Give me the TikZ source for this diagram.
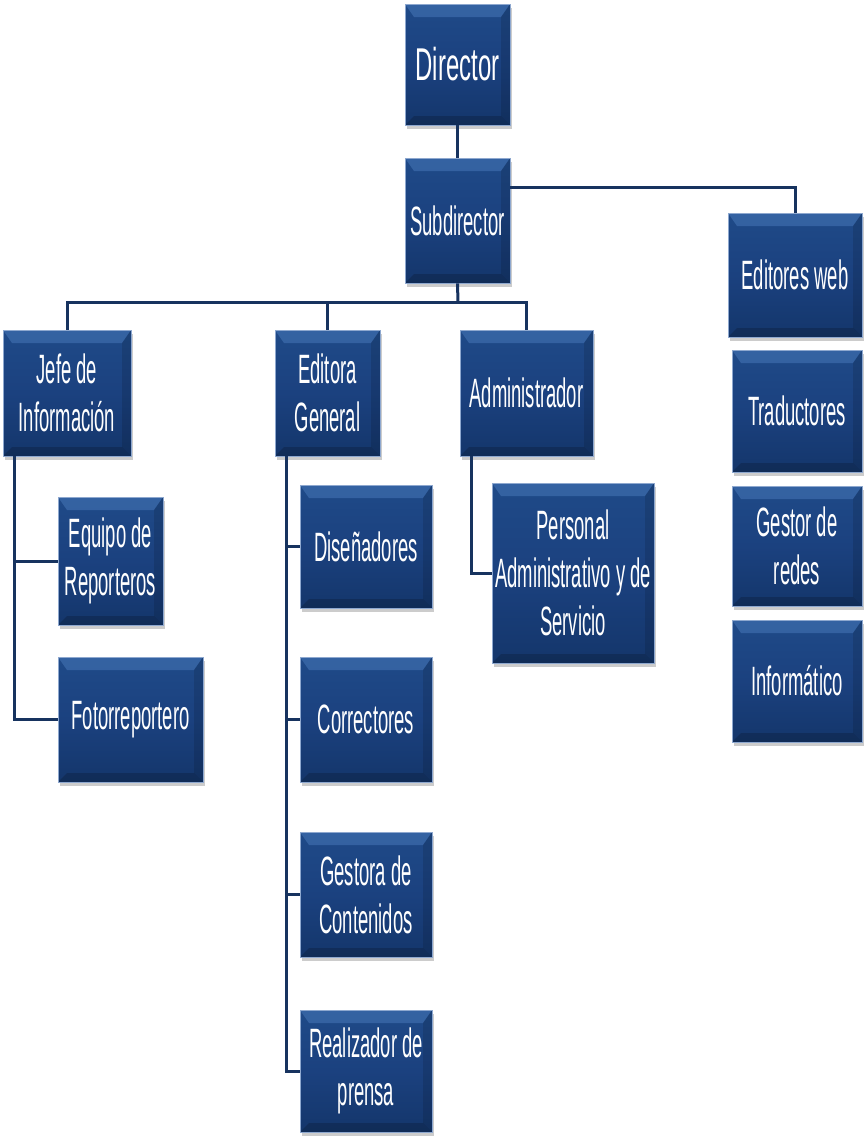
\documentclass[tikz,border=0pt]{standalone}
\usepackage{fontspec}
\setmainfont{Liberation Sans}
\newfontfamily\unitfam{Liberation Sans}[FakeStretch=0.45]
\newfontfamily\topfam{Liberation Sans}[FakeStretch=0.52]
\usetikzlibrary{shadows}
\definecolor{boxtop}{HTML}{1F4A88}
\definecolor{boxmid}{HTML}{1B417F}
\definecolor{boxbot}{HTML}{14366B}
\definecolor{boxhi}{HTML}{4A7BBC}
\definecolor{boxedge}{HTML}{8EA8CF}
\definecolor{linkcol}{HTML}{17335F}
\newcommand{\unitfont}{\unitfam\fontsize{41}{48}\selectfont}
\newcommand{\topfont}{\topfam\fontsize{46}{52}\selectfont}
\tikzset{
  unit/.style={rectangle, inner sep=0pt, text=white, align=center, font=\unitfont,
    top color=boxtop, bottom color=boxbot, middle color=boxmid,
    draw=boxedge, line width=0.8pt,
    drop shadow={shadow xshift=2pt, shadow yshift=-4pt, fill=black!40, opacity=0.5},
    path picture={
      \fill[boxhi, opacity=0.5] (path picture bounding box.north west) -- (path picture bounding box.north east)
        -- ([xshift=-9pt,yshift=-13pt]path picture bounding box.north east)
        -- ([xshift=9pt,yshift=-13pt]path picture bounding box.north west) -- cycle;
      \fill[black, opacity=0.18] (path picture bounding box.south west) -- (path picture bounding box.south east)
        -- ([xshift=-9pt,yshift=9pt]path picture bounding box.south east)
        -- ([xshift=9pt,yshift=9pt]path picture bounding box.south west) -- cycle;
      \fill[black, opacity=0.12] (path picture bounding box.north east) -- (path picture bounding box.south east)
        -- ([xshift=-9pt,yshift=9pt]path picture bounding box.south east)
        -- ([xshift=-9pt,yshift=-13pt]path picture bounding box.north east) -- cycle;
    }},
  link/.style={draw=linkcol, line width=3pt}
}
% box from corner (x1,y1) to corner (x2,y2), y measured downwards
\newcommand{\unitbox}[6]{%
  \node[unit, minimum width={(#4-#2)*1pt}, minimum height={(#5-#3)*1pt}]
    (#1) at ({(#2+#4)/2},{(#3+#5)/2}) {#6};}
\begin{document}
\begin{tikzpicture}[x=1pt, y=-1pt]
\useasboundingbox (0,0) rectangle (864,1136);

% top of the hierarchy
\node[unit, font=\topfont, minimum width=105pt, minimum height=121pt] (dir) at (457.5,64.5) {Director};
\unitbox{sub}{405}{158}{510}{283}{Subdirector}

% web team column
\unitbox{web}{728}{213}{862}{337}{Editores web}
\unitbox{trad}{732}{350}{862}{472}{Traductores}
\unitbox{redes}{732}{486}{862}{606}{Gestor de\\redes}
\unitbox{info}{732}{620}{862}{742}{Informático}

% second level
\unitbox{jefe}{3}{330}{131}{456}{Jefe de\\Información}
\unitbox{edit}{275}{330}{380}{456}{Editora\\General}
\unitbox{adm}{460}{330}{593}{456}{Administrador}

% under Jefe de Información
\unitbox{equipo}{58}{497}{163}{625}{Equipo de\\Reporteros}
\unitbox{foto}{58}{657}{203}{782}{Fotorreportero}

% under Editora General
\unitbox{dis}{300}{485}{432}{608}{Diseñadores}
\unitbox{cor}{300}{657}{432}{782}{Correctores}
\unitbox{ges}{300}{832}{432}{957}{Gestora de\\Contenidos}
\unitbox{rea}{300}{1010}{432}{1132}{Realizador de\\prensa}

% under Administrador
\unitbox{per}{492}{483}{654}{663}{Personal\\Administrativo y de\\Servicio}

% connectors
\coordinate (bus) at (458,302);
\draw[link] (dir) -- (sub);
\draw[link] ([yshift=-30pt]sub.north east) -| (web.north);
\draw[link] (sub.south) -- (bus);
\draw[link] (jefe.north) |- (bus -| adm.north) -- (adm.north);
\draw[link] (edit.north) -- (edit.north |- bus);
\draw[link] ([xshift=12pt]jefe.south west) |- (equipo.west);
\draw[link] ([xshift=12pt]jefe.south west) |- (foto.west);
\draw[link] ([xshift=12pt]edit.south west) |- (dis.west);
\draw[link] ([xshift=12pt]edit.south west) |- (cor.west);
\draw[link] ([xshift=12pt]edit.south west) |- (ges.west);
\draw[link] ([xshift=12pt]edit.south west) |- (rea.west);
\draw[link] ([xshift=12pt]adm.south west) |- (per.west);
\end{tikzpicture}
\end{document}
